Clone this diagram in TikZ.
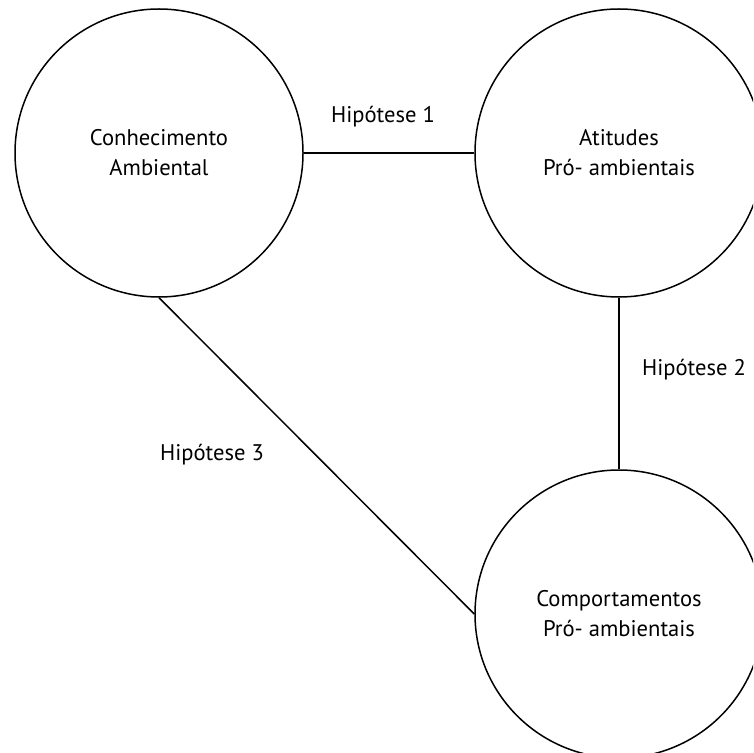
\documentclass[tikz,border=0pt]{standalone}
\usepackage{fontspec}
\setmainfont{PT Sans}
\begin{document}
\begin{tikzpicture}[x=0.5pt,y=-0.5pt,
  bubble/.style={circle,draw,line width=0.75pt,minimum size=144pt,inner sep=0pt,align=center,font=\fontsize{11.3}{15}\selectfont},
  hyp/.style={font=\fontsize{11.3}{15}\selectfont,inner sep=0pt},
  link/.style={line width=0.75pt}]
\useasboundingbox (0,0) rectangle (753,753);
\clip (0,0) rectangle (753,753);
\node[bubble] (c1) at (159,153) {Conhecimento\\Ambiental};
\node[bubble] (c2) at (619,153) {Atitudes\\Pró- ambientais};
\node[bubble] (c3) at (619,614) {Comportamentos\\Pró- ambientais};
\draw[link] (c1.east) -- (c2.west);
\draw[link] (c2.south) -- (c3.north);
\draw[link] (c1.south) -- (c3.west);
\node[hyp] (h1) at (383,117) {Hipótese 1};
\node[hyp] (h2) at (694,370) {Hipótese 2};
\node[hyp] (h3) at (212,455) {Hipótese 3};
\end{tikzpicture}
\end{document}
